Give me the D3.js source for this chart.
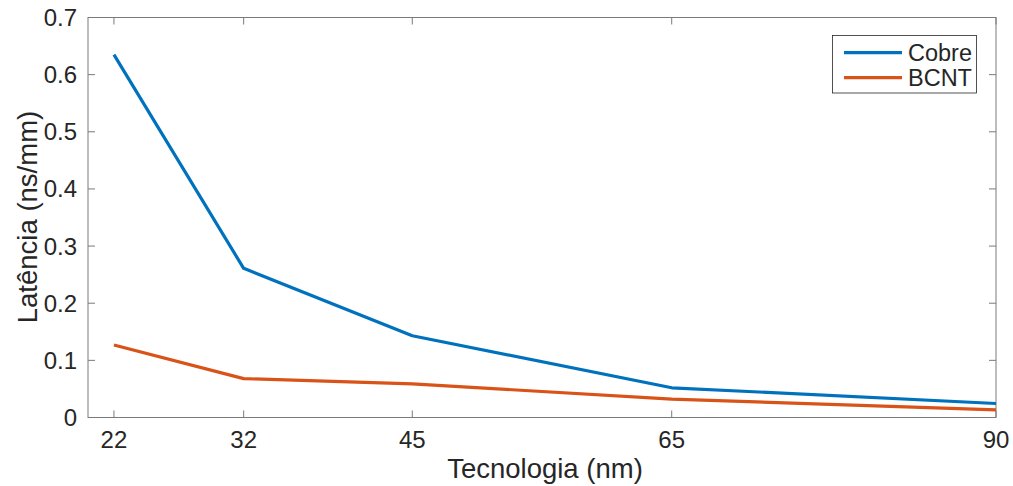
<!DOCTYPE html>
<html><head><meta charset="utf-8">
<script src="https://cdn.jsdelivr.net/npm/d3@7"></script>
<style>body{margin:0;background:#fff}svg{display:block}text{font-family:"Liberation Sans",Arial,sans-serif;fill:#262626}</style>
</head><body><svg id="c" width="1013" height="486"></svg>
<script>
const tech = [22, 32, 45, 65, 90];
const cobre = [0.635, 0.261, 0.143, 0.052, 0.0245];
const bcnt = [0.127, 0.068, 0.059, 0.032, 0.0135];
const yTicks = [0, 0.1, 0.2, 0.3, 0.4, 0.5, 0.6, 0.7];
const seriesNames = ["Cobre", "BCNT"];
const colors = ["#0072BD", "#D95319"];

const svg = d3.select("#c");
const L = 88, R = 996, T = 17.5, B = 417.5;
const x = d3.scaleLinear().domain([20, 90]).range([L, R]);
const y = d3.scaleLinear().domain([0, 0.7]).range([B, T]);
const axisColor = "#7a7a7a";
const fs = 24;

const g = svg.append("g");
const tl = 7;
tech.forEach(t => {
  g.append("line").attr("x1", x(t)).attr("x2", x(t)).attr("y1", B).attr("y2", B - tl).attr("stroke", axisColor);
  g.append("line").attr("x1", x(t)).attr("x2", x(t)).attr("y1", T).attr("y2", T + tl).attr("stroke", axisColor);
  g.append("text").attr("x", x(t)).attr("y", 448).attr("text-anchor", "middle").attr("font-size", fs).text(t);
});
yTicks.forEach(v => {
  g.append("line").attr("x1", L).attr("x2", L + tl).attr("y1", y(v)).attr("y2", y(v)).attr("stroke", axisColor);
  g.append("line").attr("x1", R).attr("x2", R - tl).attr("y1", y(v)).attr("y2", y(v)).attr("stroke", axisColor);
  g.append("text").attr("x", 77).attr("y", y(v) + 8.5).attr("text-anchor", "end").attr("font-size", fs).text(v === 0 ? "0" : d3.format(".1f")(v));
});
g.append("rect").attr("x", L).attr("y", T).attr("width", R - L).attr("height", B - T).attr("fill", "none").attr("stroke", axisColor).attr("stroke-width", 1);

const line = d3.line().x((d, i) => x(tech[i])).y(d => y(d));
[cobre, bcnt].forEach((s, k) => {
  svg.append("path").datum(s).attr("d", line).attr("fill", "none").attr("stroke", colors[k]).attr("stroke-width", 3.2).attr("stroke-linejoin", "round");
});

svg.append("text").attr("x", 545).attr("y", 478).attr("text-anchor", "middle").attr("font-size", 27.5).text("Tecnologia (nm)");
svg.append("text").attr("transform", "translate(37,217) rotate(-90)").attr("text-anchor", "middle").attr("font-size", 27.5).text("Latência (ns/mm)");

const lg = svg.append("g");
lg.append("rect").attr("x", 832.5).attr("y", 35.5).attr("width", 144).attr("height", 57.5).attr("fill", "#fff").attr("stroke", "#262626").attr("stroke-width", 0.8);
seriesNames.forEach((n, k) => {
  const yy = 52.7 + k * 25;
  lg.append("line").attr("x1", 844).attr("x2", 902).attr("y1", yy).attr("y2", yy).attr("stroke", colors[k]).attr("stroke-width", 3.2);
  lg.append("text").attr("x", 908).attr("y", yy + 8).attr("font-size", 23.5).text(n);
});
</script></body></html>
